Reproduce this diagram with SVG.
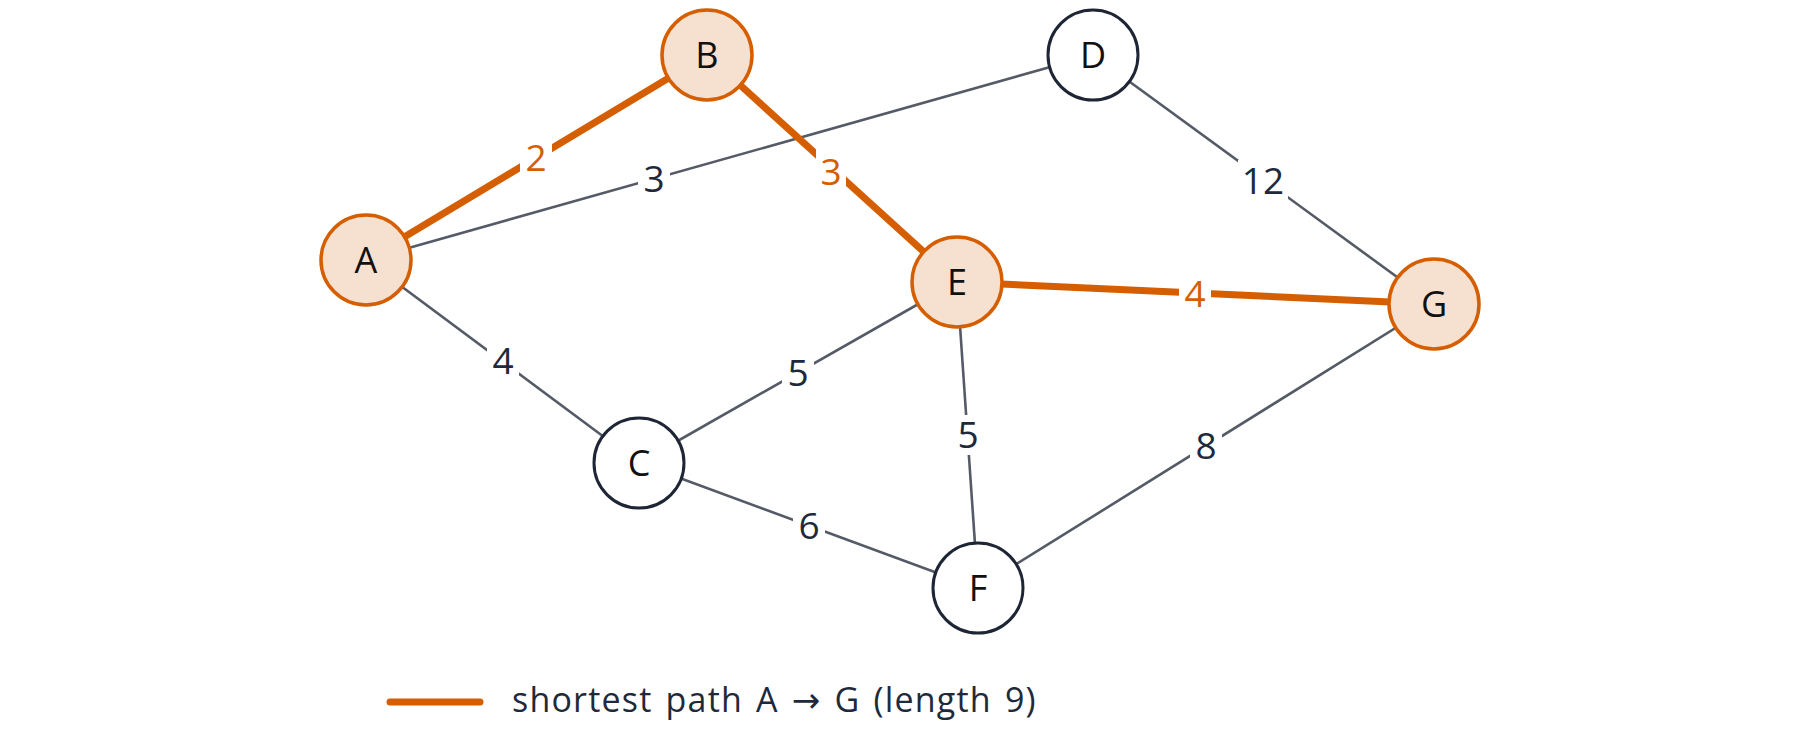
<svg xmlns="http://www.w3.org/2000/svg" width="1800" height="743" viewBox="0 0 1800 743">
<style>
text{font-family:"Open Sans","DejaVu Sans","Liberation Sans",sans-serif;}
.e{stroke:#555b66;stroke-width:2.6;fill:none}
.p{stroke:#d55e00;stroke-width:7;fill:none}
.n{fill:#ffffff;stroke:#1e2535;stroke-width:3}
.h{fill:#f6e0d0;stroke:#d55e00;stroke-width:3.5}
.nl{font-size:36px;fill:#111111;text-anchor:middle}
.el{font-size:37px;fill:#1e2a3c;text-anchor:middle}
.ol{font-size:37px;fill:#d55e00;text-anchor:middle}
.bg{fill:#ffffff}
</style>
<rect width="1800" height="743" fill="#ffffff"/>
<g id="connectors">
<line class="e" x1="366" y1="260" x2="1093" y2="55"/>
<line class="e" x1="1093" y1="55" x2="1434" y2="304"/>
<line class="e" x1="366" y1="260" x2="639" y2="463"/>
<line class="e" x1="639" y1="463" x2="957" y2="282"/>
<line class="e" x1="957" y1="282" x2="978" y2="588"/>
<line class="e" x1="639" y1="463" x2="978" y2="588"/>
<line class="e" x1="978" y1="588" x2="1434" y2="304"/>
<line class="p" x1="366" y1="260" x2="707" y2="55"/>
<line class="p" x1="707" y1="55" x2="957" y2="282"/>
<line class="p" x1="957" y1="282" x2="1434" y2="304"/>
<g id="edge-labels">
<rect class="bg" x="638" y="160" width="32" height="38"/><text class="el" x="654" y="192">3</text>
<rect class="bg" x="520" y="138" width="32" height="40"/><text class="ol" x="536" y="171">2</text>
<rect class="bg" x="816" y="148" width="30" height="42"/><text class="ol" x="831" y="185">3</text>
<rect class="bg" x="1238" y="160" width="50" height="40"/><text class="el" x="1263" y="194">12</text>
<rect class="bg" x="1179" y="274" width="32" height="40"/><text class="ol" x="1195" y="307">4</text>
<rect class="bg" x="487" y="341" width="32" height="40"/><text class="el" x="503" y="374">4</text>
<rect class="bg" x="782" y="353" width="32" height="40"/><text class="el" x="798" y="386">5</text>
<rect class="bg" x="952" y="415" width="32" height="40"/><text class="el" x="968" y="448">5</text>
<rect class="bg" x="793" y="506" width="32" height="40"/><text class="el" x="809" y="539">6</text>
<rect class="bg" x="1190" y="426" width="32" height="40"/><text class="el" x="1206" y="459">8</text>
</g>
</g>
<g id="node-A"><circle class="h" cx="366" cy="260" r="45"/><text class="nl" x="366" y="273">A</text></g>
<g id="node-B"><circle class="h" cx="707" cy="55" r="45"/><text class="nl" x="707" y="68">B</text></g>
<g id="node-D"><circle class="n" cx="1093" cy="55" r="45"/><text class="nl" x="1093" y="68">D</text></g>
<g id="node-E"><circle class="h" cx="957" cy="282" r="45"/><text class="nl" x="957" y="295">E</text></g>
<g id="node-G"><circle class="h" cx="1434" cy="304" r="45"/><text class="nl" x="1434" y="317">G</text></g>
<g id="node-C"><circle class="n" cx="639" cy="463" r="45"/><text class="nl" x="639" y="476">C</text></g>
<g id="node-F"><circle class="n" cx="978" cy="588" r="45"/><text class="nl" x="978" y="601">F</text></g>
<g id="legend">
<line x1="390" y1="702" x2="480" y2="702" stroke="#d55e00" stroke-width="7" stroke-linecap="round"/>
<text x="512" y="712" style="font-size:34px;fill:#1e2a3c;letter-spacing:1.2px;word-spacing:3px">shortest path A → G (length 9)</text>
</g>
</svg>
